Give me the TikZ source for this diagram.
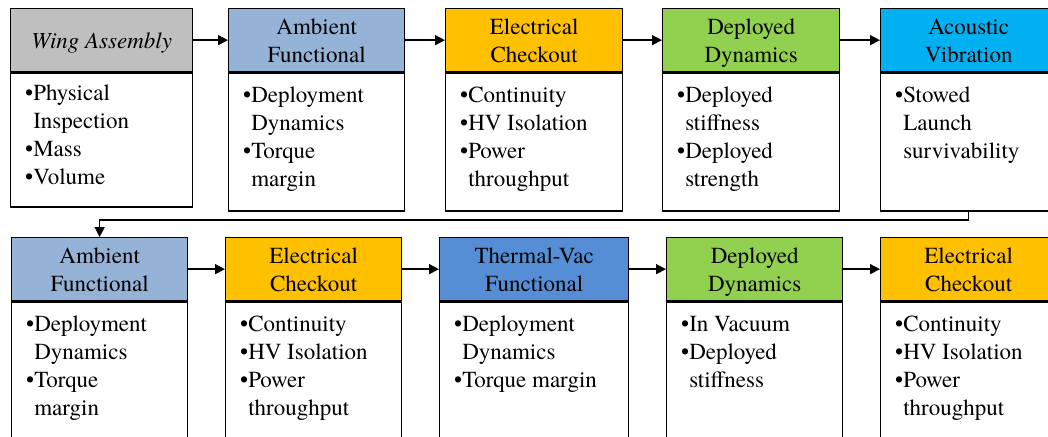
\documentclass[tikz,border=0pt]{standalone}
\usepackage{fontspec}
\setmainfont{texgyretermes}[Extension=.otf, UprightFont=*-regular, ItalicFont=*-italic, BoldFont=*-bold, BoldItalicFont=*-bolditalic]
\usetikzlibrary{arrows.meta}
\definecolor{cgray}{HTML}{BFBFBF}
\definecolor{camb}{HTML}{95B3D7}
\definecolor{celec}{HTML}{FFC000}
\definecolor{cdep}{HTML}{92D050}
\definecolor{cacou}{HTML}{00B0F0}
\definecolor{ctvac}{HTML}{558ED5}
\newcommand\hla[1]{\rule[-8.4pt]{0pt}{34pt}#1}
\newcommand\hlb[1]{#1\strut}
\begin{document}
\begin{tikzpicture}[x=1pt,y=-1pt,
  head/.style={draw=black, line width=1.3pt, rectangle, inner sep=0pt, align=center,
    font=\fontsize{23}{28}\selectfont, anchor=north west, minimum height=63pt},
  bodybox/.style={draw=black, line width=1.3pt, rectangle, inner sep=0pt, fill=white, anchor=north},
  bodytext/.style={inner sep=0pt, anchor=north west, font=\fontsize{23}{28}\selectfont},
  arr/.style={line width=1.4pt, -{Triangle[length=10pt,width=10pt]}}]
\useasboundingbox (0,0) rectangle (1048,436);
\clip (0,0) rectangle (1048,436);
\fill[white] (0,0) rectangle (1048,436);
% ---- row 1 ----
\node[head, fill=cgray, minimum width=182pt] (h1) at (10,8) {\hla{\itshape Wing Assembly}};
\node[bodybox, minimum width=182pt, minimum height=134pt] (b1) at (h1.south) {};
\node[bodytext] (t1) at ([shift={(15,8)}]b1.north west)
  {\begin{tabular}{@{}l@{}l@{}}•&Physical\\&Inspection\\•&Mass\\•&Volume\end{tabular}};

\node[head, fill=camb, minimum width=176pt] (h2) at (228,8) {\hla{Ambient}\\\hlb{Functional}};
\node[bodybox, minimum width=176pt, minimum height=138pt] (b2) at (h2.south) {};
\node[bodytext] (t2) at ([shift={(15,10)}]b2.north west)
  {\begin{tabular}{@{}l@{}l@{}}•&Deployment\\&Dynamics\\•&Torque\\&margin\end{tabular}};

\node[head, fill=celec, minimum width=177pt] (h3) at (445,8) {\hla{Electrical}\\\hlb{Checkout}};
\node[bodybox, minimum width=177pt, minimum height=138pt] (b3) at (h3.south) {};
\node[bodytext] (t3) at ([shift={(15,10)}]b3.north west)
  {\begin{tabular}{@{}l@{}l@{}}•&Continuity\\•&HV Isolation\\•&Power\\&throughput\end{tabular}};

\node[head, fill=cdep, minimum width=177pt] (h4) at (662,8) {\hla{Deployed}\\\hlb{Dynamics}};
\node[bodybox, minimum width=177pt, minimum height=138pt] (b4) at (h4.south) {};
\node[bodytext] (t4) at ([shift={(15,10)}]b4.north west)
  {\begin{tabular}{@{}l@{}l@{}}•&Deployed\\&stiffness\\•&Deployed\\&strength\end{tabular}};

\node[head, fill=cacou, minimum width=176pt] (h5) at (880,8) {\hla{Acoustic}\\\hlb{Vibration}};
\node[bodybox, minimum width=176pt, minimum height=138pt] (b5) at (h5.south) {};
\node[bodytext] (t5) at ([shift={(15,10)}]b5.north west)
  {\begin{tabular}{@{}l@{}l@{}}•&Stowed\\&Launch\\&survivability\end{tabular}};

% ---- row 2 ----
\node[head, fill=camb, minimum width=176pt] (h6) at (11,237) {\hla{Ambient}\\\hlb{Functional}};
\node[bodybox, minimum width=176pt, minimum height=160pt] (b6) at (h6.south) {};
\node[bodytext] (t6) at ([shift={(15,10)}]b6.north west)
  {\begin{tabular}{@{}l@{}l@{}}•&Deployment\\&Dynamics\\•&Torque\\&margin\end{tabular}};

\node[head, fill=celec, minimum width=176pt] (h7) at (225,237) {\hla{Electrical}\\\hlb{Checkout}};
\node[bodybox, minimum width=176pt, minimum height=160pt] (b7) at (h7.south) {};
\node[bodytext] (t7) at ([shift={(15,10)}]b7.north west)
  {\begin{tabular}{@{}l@{}l@{}}•&Continuity\\•&HV Isolation\\•&Power\\&throughput\end{tabular}};

\node[head, fill=ctvac, minimum width=189pt] (h8) at (439,237) {\hla{Thermal-Vac}\\\hlb{Functional}};
\node[bodybox, minimum width=189pt, minimum height=160pt] (b8) at (h8.south) {};
\node[bodytext] (t8) at ([shift={(15,10)}]b8.north west)
  {\begin{tabular}{@{}l@{}l@{}}•&Deployment\\&Dynamics\\•&Torque margin\end{tabular}};

\node[head, fill=cdep, minimum width=176pt] (h9) at (666,237) {\hla{Deployed}\\\hlb{Dynamics}};
\node[bodybox, minimum width=176pt, minimum height=160pt] (b9) at (h9.south) {};
\node[bodytext] (t9) at ([shift={(15,10)}]b9.north west)
  {\begin{tabular}{@{}l@{}l@{}}•&In Vacuum\\•&Deployed\\&stiffness\end{tabular}};

\node[head, fill=celec, minimum width=176pt] (h10) at (880,237) {\hla{Electrical}\\\hlb{Checkout}};
\node[bodybox, minimum width=176pt, minimum height=160pt] (b10) at (h10.south) {};
\node[bodytext] (t10) at ([shift={(15,10)}]b10.north west)
  {\begin{tabular}{@{}l@{}l@{}}•&Continuity\\•&HV Isolation\\•&Power\\&throughput\end{tabular}};

% ---- connectors ----
\draw[arr] (h1.east) -- (h2.west);
\draw[arr] (h2.east) -- (h3.west);
\draw[arr] (h3.east) -- (h4.west);
\draw[arr] (h4.east) -- (h5.west);
\draw[arr] (b5.south) -- ++(0,8.5) -| (h6.north);
\draw[arr] (h6.east) -- (h7.west);
\draw[arr] (h7.east) -- (h8.west);
\draw[arr] (h8.east) -- (h9.west);
\draw[arr] (h9.east) -- (h10.west);
\end{tikzpicture}
\end{document}
